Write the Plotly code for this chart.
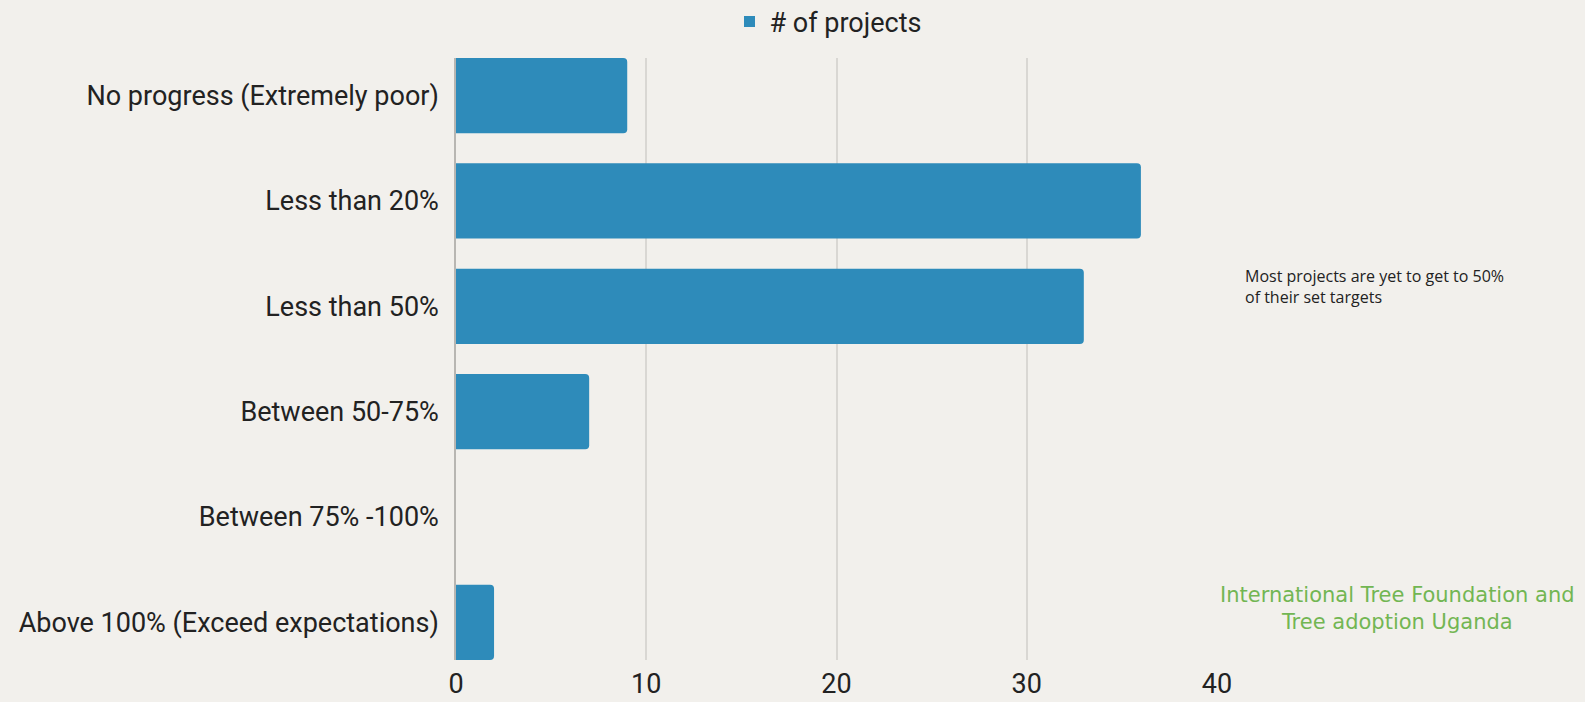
import plotly.graph_objects as go

categories = [
    "No progress (Extremely poor)",
    "Less than 20%",
    "Less than 50%",
    "Between 50-75%",
    "Between 75% -100%",
    "Above 100% (Exceed expectations)",
]
projects = [9, 36, 33, 7, 0, 2]
x_ticks = [0, 10, 20, 30, 40]

BAR = "#2e8bba"
BG = "#f2f0ec"
FONT = "Roboto, sans-serif"

W, H = 1585, 702
l, r, t, b = 456, 368, 58, 42
pw, ph = W - l - r, H - t - b


def px(x, y):
    # pixel position on the page -> paper fractions
    return (x - l) / pw, 1 - (y - t) / ph


fig = go.Figure()
fig.add_trace(go.Bar(
    x=projects, y=categories, orientation="h",
    marker=dict(color=BAR, line=dict(width=0)),
    showlegend=False, hoverinfo="x+y",
))
# legend-only trace so the key is a small square
fig.add_trace(go.Scatter(
    x=[None], y=[None], mode="markers", name="# of projects",
    marker=dict(symbol="square", size=11, color=BAR),
))

ax1, ay1 = px(1243, 286)
ax2, ay2 = px(1397, 608)
lx, ly = px(828, 22)

fig.update_layout(
    width=W, height=H,
    paper_bgcolor=BG, plot_bgcolor=BG,
    font=dict(family=FONT, size=27, color="#222222"),
    margin=dict(l=l, r=r, t=t, b=b, autoexpand=False),
    bargap=0.286, barcornerradius=4,
    legend=dict(orientation="h", x=lx, xanchor="center", y=ly, yanchor="middle",
                bgcolor="rgba(0,0,0,0)", font=dict(size=27), itemwidth=30),
    annotations=[
        dict(text="Most projects are yet to get to 50%<br>of their set targets",
             x=ax1, y=ay1, xref="paper", yref="paper", showarrow=False, align="left",
             xanchor="left", yanchor="middle",
             font=dict(family="Open Sans, sans-serif", size=16, color="#222222")),
        dict(text="International Tree Foundation and<br>Tree adoption Uganda",
             x=ax2, y=ay2, xref="paper", yref="paper", showarrow=False, align="center",
             xanchor="center", yanchor="middle",
             font=dict(family="DejaVu Sans, sans-serif", size=21, color="#72b653")),
    ],
)

fig.update_xaxes(
    range=[0, 40], tickvals=x_ticks, showgrid=True, gridcolor="#d9d7d3", gridwidth=1.5,
    zeroline=False, showline=False, ticks="", ticklabelstandoff=5, automargin=False,
    tickfont=dict(size=27, color="#222222"),
)
fig.update_yaxes(
    categoryorder="array", categoryarray=categories, automargin=False,
    range=[5.357, -0.357], showgrid=False, showline=True, linecolor="#b8b6b2", linewidth=1.5,
    ticks="", ticklabelstandoff=10, tickfont=dict(size=27, color="#222222"),
)

fig.write_html("out.html", config={"displayModeBar": False},
               post_script="document.body.style.margin='0';")
